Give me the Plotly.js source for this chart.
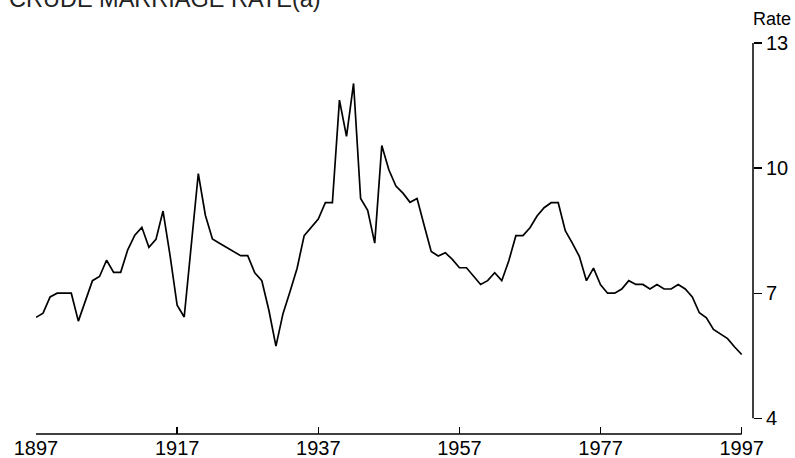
<!DOCTYPE html>
<html>
<head>
<meta charset="utf-8">
<script src="https://cdn.plot.ly/plotly-3.0.1.min.js"></script>
<style>html,body{margin:0;padding:0;background:#fff;}#chart{width:795px;height:458px;}</style>
</head>
<body>
<div id="chart"></div>
<script>
const years = [
1897,1898,1899,1900,1901,1902,1903,1904,1905,1906,1907,1908,1909,1910,1911,1912,1913,1914,1915,1916,
1917,1918,1919,1920,1921,1922,1923,1924,1925,1926,1927,1928,1929,1930,1931,1932,1933,1934,1935,1936,
1937,1938,1939,1940,1941,1942,1943,1944,1945,1946,1947,1948,1949,1950,1951,1952,1953,1954,1955,1956,
1957,1958,1959,1960,1961,1962,1963,1964,1965,1966,1967,1968,1969,1970,1971,1972,1973,1974,1975,1976,
1977,1978,1979,1980,1981,1982,1983,1984,1985,1986,1987,1988,1989,1990,1991,1992,1993,1994,1995,1996,1997];
const rate = [
6.42,6.52,6.91,7.00,7.00,7.00,6.33,6.82,7.30,7.40,7.79,7.50,7.50,8.04,8.39,8.58,8.10,8.29,8.97,7.90,
6.71,6.43,8.15,9.87,8.87,8.30,8.20,8.10,8.00,7.90,7.90,7.49,7.30,6.59,5.73,6.51,7.04,7.60,8.38,8.58,
8.78,9.17,9.17,11.63,10.76,12.03,9.27,8.99,8.20,10.54,9.96,9.57,9.40,9.18,9.27,8.63,8.00,7.89,7.97,7.81,
7.61,7.61,7.42,7.21,7.30,7.49,7.30,7.78,8.38,8.38,8.57,8.85,9.05,9.17,9.17,8.50,8.20,7.88,7.30,7.60,
7.20,7.00,7.00,7.10,7.30,7.21,7.21,7.10,7.21,7.10,7.10,7.21,7.10,6.91,6.53,6.41,6.13,6.03,5.91,5.71,5.53];
const xTicks = [1897,1917,1937,1957,1977,1997];
const yTicks = [4,7,10,13];
const titleText = "CRUDE MARRIAGE RATE(a)";
const yUnit = "Rate";

const W = 795, H = 458;
const L = 36, R = 42, T = 43.3, B = 24;
const plotW = W - L - R, plotH = H - T - B;
const pxPerYear = (741.7 - 36) / (xTicks[xTicks.length-1] - xTicks[0]);
const pxPerUnit = (418.3 - 43.3) / (yTicks[yTicks.length-1] - yTicks[0]);
const xMax = xTicks[0] + plotW / pxPerYear;
const yMin = yTicks[0] - (434 - 418.3) / pxPerUnit;

const font = "Liberation Sans, Arial, sans-serif";

const trace = {
  x: years, y: rate, type: 'scatter', mode: 'lines',
  line: {color: '#000', width: 1.7},
  hoverinfo: 'x+y'
};

const layout = {
  width: W, height: H,
  margin: {l: L, r: R, t: T, b: B, pad: 0},
  paper_bgcolor: '#fff', plot_bgcolor: '#fff',
  showlegend: false,
  font: {family: font, color: '#000', size: 20},
  xaxis: {
    range: [xTicks[0], xMax], tickmode: 'array', tickvals: xTicks,
    ticks: 'inside', ticklen: 7, tickwidth: 1.3, tickcolor: '#000',
    showline: false, showgrid: false, zeroline: false,
    tickfont: {family: font, size: 20, color: '#000'},
    automargin: false, fixedrange: true
  },
  yaxis: {
    range: [yMin, yTicks[yTicks.length-1]], side: 'right',
    tickmode: 'array', tickvals: yTicks,
    ticks: 'outside', ticklen: 8, tickwidth: 1.3, tickcolor: '#000',
    showline: false, showgrid: false, zeroline: false,
    tickfont: {family: font, size: 20, color: '#000'},
    automargin: false, fixedrange: true
  },
  shapes: [
    {type: 'line', xref: 'x', yref: 'paper', x0: xTicks[0], x1: xTicks[xTicks.length-1], y0: 0, y1: 0,
     line: {color: '#000', width: 1.5}},
    {type: 'line', xref: 'paper', yref: 'y', x0: 1, x1: 1, y0: yTicks[0], y1: yTicks[yTicks.length-1],
     line: {color: '#000', width: 1.5}}
  ],
  annotations: [
    {text: titleText, xref: 'paper', yref: 'paper', x: (7 - L) / plotW, y: (434 + 1) / plotH,
     xanchor: 'left', yanchor: 'middle', showarrow: false,
     font: {family: font, size: 23.5, color: '#222'}},
    {text: yUnit, xref: 'paper', yref: 'paper', x: (772 - L) / plotW, y: (434 - 19) / plotH,
     xanchor: 'center', yanchor: 'middle', showarrow: false,
     font: {family: font, size: 18, color: '#000'}}
  ]
};

Plotly.newPlot('chart', [trace], layout, {displayModeBar: false, staticPlot: true});
</script>
</body>
</html>
